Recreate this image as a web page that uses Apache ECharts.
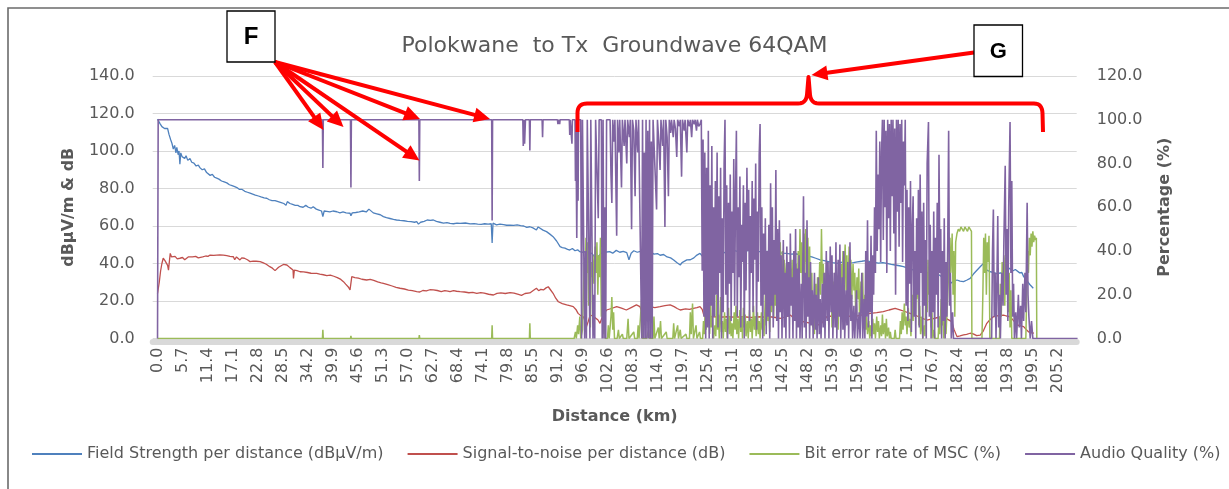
<!DOCTYPE html>
<html><head><meta charset="utf-8">
<script src="https://cdn.jsdelivr.net/npm/echarts@6/dist/echarts.min.js"></script>
<style>html,body{margin:0;padding:0;background:#fff}#c{width:1229px;height:489px}</style>
</head><body><div id="c"></div><script>
// x tick labels (km)
const xTicks=[0.0,5.7,11.4,17.1,22.8,28.5,34.2,39.9,45.6,51.3,57.0,62.7,68.4,74.1,79.8,85.5,91.2,96.9,102.6,108.3,114.0,119.7,125.4,131.1,136.8,142.5,148.2,153.9,159.6,165.3,171.0,176.7,182.4,188.1,193.8,199.5,205.2];
const leftTicks=[0,20,40,60,80,100,120,140];
const rightTicks=[0,20,40,60,80,100,120];

// Field Strength per distance (dBµV/m) : [km, value]
const fieldStrength=[[0,117],[0.3,116],[0.6,114.5],[1.0,113],[1.3,114],[1.6,112],[2.0,111],[2.3,112],[2.6,109],[3.0,106],[3.3,104],[3.6,101],[3.9,103],[4.2,99],[4.4,102],[4.7,98],[4.9,100],[5.1,93],[5.3,99],[5.6,97],[5.9,98],[6.2,96],[6.5,97.5],[6.9,95],[7.4,96],[7.8,94],[8.3,93.5],[8.8,92],[9.3,92.5],[9.7,91],[10.2,90],[10.7,90.5],[11.2,88.5],[11.6,89],[12.0,87],[12.5,87.5],[13.0,86],[13.5,85.5],[14.0,85],[14.6,84],[15.2,83.5],[15.8,83],[16.4,82],[17.0,81.5],[17.6,81],[18.1,80.5],[18.7,79.5],[19.3,79.5],[19.9,78.5],[20.5,78],[21.1,77.5],[21.7,77],[22.3,76.5],[23.0,76],[23.6,75.5],[24.3,75],[24.9,74.8],[25.5,74],[26.1,73.5],[26.8,73.5],[27.5,73],[28.2,72.5],[28.8,72],[29.3,71],[29.6,73],[30.2,72],[30.8,71.5],[31.4,71],[32.0,71],[32.5,70.3],[33.2,70],[33.8,71],[34.4,70],[35.0,69.5],[35.5,70.3],[36.2,69],[36.8,68.5],[37.4,68],[37.7,65],[38.0,68],[38.6,67.8],[39.3,67.5],[40.0,68],[40.9,67.6],[41.6,67],[42.3,67.5],[43.0,67],[43.9,66.8],[44.1,65.5],[44.4,67],[45.2,67.2],[46.0,67.5],[46.8,68],[47.6,67.5],[48.2,69],[48.5,68.5],[49.2,67],[50.0,66.5],[50.8,66],[51.5,65],[52.2,64.5],[53.0,64],[53.8,63.5],[54.5,63.2],[55.3,63],[56.2,62.8],[57.0,62.5],[57.8,62.3],[58.6,62],[59.1,62.3],[59.5,61],[59.7,60],[60.0,62],[60.8,62.5],[61.5,63.2],[62.2,63],[62.9,63.2],[63.6,62.5],[64.4,62],[65.2,61.5],[66.0,61.8],[66.7,61.4],[67.5,61.2],[68.3,61.5],[69.0,61.4],[70.2,61.6],[71.3,61.1],[72.2,61.3],[73.0,61.0],[73.8,60.9],[74.6,61.2],[75.4,61.0],[76.1,61.2],[76.3,51],[76.5,61.5],[77.3,60.6],[78.1,61],[78.9,60.7],[79.6,60.4],[80.4,60.5],[81.2,60.3],[82.0,60.6],[82.8,60.2],[83.5,60],[84.2,59.3],[84.9,59.6],[85.6,59],[86.4,57.9],[86.8,59.5],[87.2,58.7],[87.9,57.8],[88.7,57],[89.4,55.8],[90.2,54.3],[91.0,52],[91.8,49],[92.3,48.5],[92.9,48.2],[93.5,47.5],[94.0,47.2],[94.6,48],[95.2,46.8],[95.8,47.3],[96.3,46.3],[97.0,46],[97.8,46.3],[98.5,45],[99.0,45.5],[99.5,44],[100.1,41.9],[100.6,44],[101.2,45.5],[102.0,46],[103.1,46.3],[103.8,45.5],[104.6,47],[105.4,46],[106.2,46.5],[107.0,45.8],[107.5,42],[107.7,41],[108.0,45.5],[108.6,46.8],[109.4,46],[110.1,46.5],[110.8,46.3],[111.6,45.5],[112.4,46.2],[113.2,45],[114.0,45.3],[114.6,44.4],[115.4,44.8],[116.2,43.5],[117.0,43],[117.7,41.9],[118.4,40.5],[119.2,39.2],[119.6,40.5],[120.0,39.5],[120.7,41.9],[121.5,42],[122.3,43],[123.0,44.5],[123.7,45.4],[124.2,44],[124.8,43],[125.5,42],[126.2,41.5],[126.8,41.9],[127.5,43],[128.3,44.5],[129.0,45.5],[129.8,46.3],[130.6,46.5],[131.4,47],[132.2,46.5],[133.0,47.2],[133.6,47.2],[134.4,46.8],[135.2,47],[136.0,46.5],[136.7,46.3],[137.4,46.3],[138.2,46],[139.0,46.5],[139.7,46.3],[140.6,45.8],[141.5,46],[142.4,45.5],[143.5,45.4],[144.5,45],[145.4,45.2],[146.3,44.8],[147.3,44.5],[148.2,44],[149.2,43.5],[150.1,42.8],[151.1,41.9],[152.0,41.5],[153.0,41],[154.0,40.5],[154.9,40.1],[155.8,40.6],[156.8,40.8],[157.7,40.3],[158.7,40.5],[159.6,40.9],[160.6,41.2],[161.5,41.5],[162.5,41],[163.4,40.6],[164.4,40.2],[165.4,40.5],[166.3,40.1],[167.3,39.5],[168.2,39.2],[169.2,38.8],[170.1,38.3],[171.1,37.5],[172.0,36.8],[173.0,36.2],[173.9,35.6],[174.9,35.4],[175.8,35],[176.8,34.9],[177.7,34.7],[178.5,33.5],[179.3,32],[180.1,30.5],[180.8,29.4],[181.5,30.5],[182.3,31.2],[183.0,30.6],[183.8,30.3],[184.6,31.2],[185.3,32.1],[186.1,34.5],[186.9,36.5],[187.7,38.5],[188.1,39],[188.4,40.1],[188.8,38],[189.1,36.5],[189.9,35.6],[190.7,35.2],[191.5,34.5],[192.2,35],[192.9,34.7],[193.6,35.5],[194.3,37.5],[194.6,38.5],[195.0,36],[195.6,36.8],[196.0,36.5],[196.6,35],[197.1,35.2],[197.5,33],[198.2,31],[198.9,28.8],[199.7,26.8]];

// Signal-to-noise per distance (dB)
const snr=[[0,24],[0.2,24.5],[0.4,30],[0.7,36],[1.0,40],[1.3,42.8],[1.7,41.5],[2.1,41],[2.3,39],[2.5,36.5],[2.7,41],[2.9,45.4],[3.2,43.5],[3.6,42.6],[4.0,43.8],[4.5,42.5],[5.1,42.8],[5.7,43.2],[6.2,42],[6.6,41.9],[7.0,43.5],[7.4,44.5],[8.0,43.5],[8.7,43.8],[9.3,43],[9.7,42.8],[10.3,43.5],[11.0,44],[11.5,43.8],[12.0,44.5],[12.8,44.3],[13.5,44.5],[14.2,44.6],[15.0,44.5],[15.8,44.2],[16.5,43.8],[17.3,43.6],[17.6,42],[18.0,43.5],[18.8,41.9],[19.2,43],[19.8,42.8],[20.5,42],[21.1,41],[21.8,41.3],[22.5,41.2],[23.4,41],[24.0,40.5],[24.8,39.6],[25.6,38.3],[26.2,37.5],[26.8,36.2],[27.2,36.5],[27.6,38],[28.0,38.3],[28.7,39.5],[29.5,39.2],[30.2,37.8],[30.9,36.5],[31.0,32],[31.1,31.2],[31.2,36.5],[31.8,36.2],[32.5,35.6],[33.3,35.5],[34.2,35.2],[35.0,34.8],[36.3,34.7],[37.0,34.3],[37.8,34],[38.6,33.5],[39.4,33.8],[40.2,33.2],[41.0,32.5],[41.8,31.5],[42.4,30.3],[42.9,29],[43.5,27.5],[43.9,25.9],[44.1,26],[44.3,33],[45.0,32.5],[45.8,32.2],[46.6,31.6],[47.7,31.2],[48.5,31.5],[49.3,31],[50.2,30.2],[51.0,29.7],[51.5,29.4],[52.5,28.7],[53.5,28],[54.4,27.3],[55.3,26.8],[56.3,26.4],[57.2,25.8],[58.1,25.5],[59.1,25],[59.8,24.8],[60.5,25.6],[61.3,25.4],[62.1,26],[62.9,25.9],[63.8,25.6],[64.7,25],[65.5,25.5],[66.2,25.3],[66.7,25],[67.5,25.5],[68.2,25.2],[69.0,25],[70.0,24.8],[71.0,24.4],[71.9,24.6],[72.8,24.1],[73.7,24.5],[74.5,24.2],[75.5,23.6],[76.6,23.2],[77.4,24.1],[78.3,24.3],[79.3,24],[80.4,24.5],[81.3,24.2],[82.3,23.5],[83.0,23],[83.4,22.3],[83.8,24],[84.2,25],[84.9,24.3],[85.6,25.5],[86.4,26.8],[86.9,25.5],[87.4,26.2],[88.0,25.9],[88.6,27],[89.1,27.6],[89.6,26],[90.2,24.1],[90.8,21.5],[91.4,19.6],[92.3,18.6],[93.3,17.9],[94.0,17.5],[94.8,17],[95.4,15.5],[95.9,13.4],[96.5,12.2],[97.1,11.6],[97.5,9.5],[97.8,6.3],[98.2,9],[98.6,12],[99.3,12.5],[99.8,11],[100.4,10],[100.9,8.1],[101.5,12],[102.0,14],[102.4,15.2],[103.5,16],[104.7,17],[105.8,16.2],[106.9,15.2],[108.0,16.5],[109.2,17.9],[110.0,17],[110.4,17],[110.6,13],[110.8,11.6],[111.1,15],[111.5,17],[112.3,17],[113.4,16.5],[114.6,17],[115.7,17.5],[116.9,17.9],[117.8,17],[118.5,16],[119.2,15.2],[120.4,15.8],[121.3,15.5],[122.2,16.1],[123.0,16.5],[123.7,17],[124.2,15.5],[124.5,13],[124.8,11.6],[125.8,11.8],[126.8,11.6],[128.3,11.4],[129.8,11.6],[131.7,11.4],[133.6,11.6],[135.5,11.2],[137.4,11.6],[138.6,11.4],[139.7,11.6],[140.9,11.2],[142.0,10.7],[143.2,11.5],[144.3,12.5],[145.0,11],[145.8,9.8],[146.8,9.2],[148.0,8.6],[149.2,8],[150.1,7.6],[151.1,7.2],[151.9,9.5],[152.6,11.6],[153.8,12],[155.1,12.3],[156.4,12.5],[157.5,12],[158.7,11.6],[159.9,12.2],[161.2,12.8],[162.5,13.4],[164.0,13.8],[165.5,14.3],[166.8,15.2],[168.2,16.1],[169.3,15.3],[170.4,14.4],[171.6,13.4],[172.8,12.4],[174.0,11.2],[175.4,9.8],[176.7,10.5],[177.9,11.2],[179.2,11.6],[180.2,10.2],[181.1,9],[181.6,5],[182.3,1],[183.0,1.4],[183.8,1.9],[184.5,2.2],[185.3,2.8],[186.0,2.5],[186.8,1.5],[187.6,1.8],[188.3,4],[189.1,8.1],[189.8,10],[190.6,11.6],[191.7,12.2],[192.9,12.5],[193.6,12],[194.4,11.6],[195.2,9.5],[196.0,7.2],[196.8,6.8],[197.5,6.3],[198.0,5],[198.6,3.6],[199.2,3.2],[199.8,2.8]];

// Bit error rate of MSC (%)
const ber=[[0,0],[37.6,0],[37.7,4],[37.8,0],[44.0,0],[44.1,1.2],[44.2,0],[59.6,0],[59.7,1.5],[59.8,0],[76.2,0],[76.3,6],[76.4,0],[84.8,0],[84.9,7],[85.0,0],[95.0,0],[95.3,3],[95.5,0],[95.8,6],[96.0,2],[96.3,10],[96.5,0],[96.9,4],[97.1,20],[97.3,35],[97.5,25],[97.7,46],[97.9,30],[98.1,44],[98.3,15],[98.5,40],[98.7,5],[98.9,35],[99.1,28],[99.3,38],[99.5,25],[99.8,42],[100.0,30],[100.2,44],[100.4,20],[100.6,38],[100.8,28],[101.0,46],[101.2,10],[101.4,20],[101.6,2],[101.9,8],[102.1,0],[102.6,0],[102.8,6],[103.0,0],[103.4,10],[103.6,19],[103.8,4],[104.0,12],[104.2,0],[104.8,0],[105.1,4],[105.3,0],[106.0,2],[106.2,0],[107.0,0],[107.3,9],[107.5,0],[108.6,3],[108.8,0],[109.4,0],[109.6,6],[109.8,0],[110.2,0],[110.4,18],[110.6,0],[111.5,0],[112.0,4],[112.2,0],[113.0,0],[113.2,10],[113.4,0],[114.2,5],[114.4,0],[114.7,8],[114.9,0],[116.0,3],[116.2,0],[117.5,0],[117.7,7],[117.9,0],[118.6,6],[118.8,0],[119.2,4],[119.4,0],[120.5,2],[120.7,0],[121.3,0],[121.5,12],[121.7,2],[122.0,16],[122.2,0],[122.8,6],[123.0,0],[123.6,3],[123.8,0],[124.3,0],[124.5,8],[124.7,2],[124.9,15],[125.1,4],[125.3,18],[125.5,6],[125.7,12],[125.9,2],[126.1,16],[126.3,5],[126.5,10],[126.8,0],[127.1,6],[127.3,1],[127.5,20],[127.7,4],[127.9,11],[128.1,0],[128.4,19],[128.6,3],[128.8,8],[129.0,0],[129.3,12],[129.5,3],[129.7,9],[129.9,0],[130.2,14],[130.4,2],[130.6,10],[130.8,1],[131.0,7],[131.2,0],[131.5,12],[131.7,4],[131.9,15],[132.1,2],[132.3,9],[132.5,0],[132.8,13],[133.0,3],[133.2,10],[133.4,0],[133.6,14],[133.8,5],[134.0,11],[134.2,1],[134.5,8],[134.7,0],[135.0,13],[135.2,3],[135.4,9],[135.6,0],[135.9,15],[136.1,4],[136.3,10],[136.5,1],[136.8,12],[137.0,2],[137.2,8],[137.4,0],[137.7,12],[137.9,4],[138.1,9],[138.3,1],[138.6,20],[138.8,6],[139.0,22],[139.2,8],[139.4,14],[139.6,3],[139.8,24],[140.0,12],[140.3,28],[140.5,10],[140.7,30],[140.9,15],[141.2,38],[141.4,18],[141.6,42],[141.8,25],[142.0,44],[142.2,20],[142.5,40],[142.7,30],[142.9,36],[143.1,22],[143.4,34],[143.6,15],[143.8,30],[144.0,10],[144.3,32],[144.5,20],[144.7,36],[144.9,12],[145.2,30],[145.4,18],[145.6,34],[145.8,8],[146.1,40],[146.3,25],[146.5,50],[146.7,30],[146.9,44],[147.1,20],[147.4,48],[147.6,28],[147.8,50],[148.0,35],[148.3,46],[148.5,22],[148.7,42],[148.9,10],[149.2,30],[149.4,5],[149.6,20],[149.8,2],[150.1,25],[150.3,8],[150.5,28],[150.7,12],[151.0,35],[151.2,20],[151.4,50],[151.6,25],[151.8,34],[152.0,15],[152.3,30],[152.5,20],[152.7,33],[152.9,10],[153.2,28],[153.4,18],[153.6,32],[153.8,5],[154.1,26],[154.3,12],[154.5,30],[154.7,8],[155.0,24],[155.2,4],[155.4,28],[155.6,15],[155.9,34],[156.1,20],[156.3,40],[156.5,25],[156.8,43],[157.0,22],[157.2,38],[157.4,15],[157.7,42],[157.9,28],[158.1,36],[158.3,18],[158.6,34],[158.8,22],[159.0,30],[159.2,12],[159.5,28],[159.7,18],[159.9,32],[160.1,8],[160.4,26],[160.6,14],[160.8,30],[161.0,6],[161.3,20],[161.5,4],[161.7,10],[161.9,2],[162.2,8],[162.4,0],[162.6,6],[162.8,1],[163.1,9],[163.3,2],[163.5,7],[163.7,0],[164.0,10],[164.2,3],[164.4,8],[164.6,0],[164.9,6],[165.1,1],[165.3,11],[165.5,2],[165.8,7],[166.0,0],[166.2,9],[166.4,1],[166.7,5],[166.9,0],[167.1,3],[167.3,0],[168.0,0],[168.2,4],[168.4,0],[169.2,0],[169.4,8],[169.6,2],[169.8,12],[170.0,4],[170.3,16],[170.5,6],[170.7,10],[170.9,2],[171.2,14],[171.4,5],[171.6,9],[171.8,1],[172.1,20],[172.3,8],[172.5,30],[172.7,14],[172.9,37],[173.1,18],[173.4,28],[173.6,6],[173.8,15],[174.0,2],[174.3,10],[174.5,0],[174.8,6],[175.0,1],[175.3,30],[175.5,12],[175.7,36],[175.9,20],[176.2,28],[176.4,5],[176.6,12],[176.8,0],[177.1,4],[177.3,0],[178.0,0],[178.2,10],[178.4,2],[178.7,18],[178.9,6],[179.1,14],[179.3,0],[179.6,8],[179.8,2],[180.2,20],[180.5,35],[180.7,46],[180.9,30],[181.2,48],[181.4,20],[181.6,40],[181.8,10],[182.0,44],[182.3,48],[182.6,50],[182.9,49],[183.2,51],[183.5,50],[183.8,49],[184.1,51],[184.4,50],[184.7,49],[185.0,51],[185.3,50],[185.6,49],[185.7,0],[188.0,0],[188.2,20],[188.4,46],[188.6,30],[188.8,48],[189.0,20],[189.2,44],[189.4,35],[189.6,47],[189.8,0],[192.0,0],[192.2,25],[192.4,10],[192.6,35],[192.8,20],[193.0,38],[193.2,15],[193.4,37],[193.6,28],[193.8,36],[194.0,12],[194.2,30],[194.4,5],[194.6,22],[194.8,0],[198.0,0],[198.2,20],[198.4,40],[198.6,30],[198.8,46],[199.0,38],[199.2,48],[199.4,42],[199.6,49],[199.8,44],[200.0,47],[200.2,45],[200.4,46],[200.5,0]];

// Audio Quality (%)
const audio=[[0,0],[0.15,100],[37.6,100],[37.7,78],[37.8,100],[44.0,100],[44.1,69],[44.2,100],[59.6,100],[59.7,72],[59.8,100],[76.2,100],[76.3,54],[76.4,100],[83.3,100],[83.4,88],[83.6,100],[83.7,89],[83.9,100],[84.8,100],[84.9,86],[85.0,100],[87.7,100],[87.8,92],[87.9,100],[91.2,100],[91.3,98],[91.5,100],[91.7,98],[91.8,100],[93.9,100],[94.0,93],[94.1,100],[94.5,89],[94.6,100],[95.2,100],[95.3,72],[95.4,100],[95.6,46],[95.8,100],[95.9,63],[96.0,100],[96.5,100],[96.7,0],[96.9,100],[97.2,100],[97.4,0],[97.6,40],[97.8,0],[98.0,100],[98.4,100],[98.6,0],[98.8,100],[99.1,100],[99.3,0],[99.5,20],[99.7,0],[99.9,100],[100.3,100],[100.5,55],[100.7,100],[101.2,100],[101.4,0],[101.6,100],[101.8,0],[102.0,60],[102.2,0],[102.4,100],[102.8,100],[103.2,100],[103.4,75],[103.6,62],[103.8,100],[104.1,90],[104.3,100],[104.6,60],[104.7,47],[104.9,100],[105.2,85],[105.4,100],[105.8,69],[106.0,100],[106.4,88],[106.6,100],[107.0,80],[107.2,100],[107.6,92],[107.8,100],[108.1,50],[108.3,100],[108.6,95],[108.9,65],[109.1,100],[109.5,85],[109.7,100],[110.1,100],[110.4,0],[110.6,100],[110.8,0],[111.0,85],[111.2,0],[111.4,100],[111.6,0],[111.8,95],[112.0,0],[112.2,100],[112.4,0],[112.6,90],[112.8,0],[113.0,100],[113.4,100],[113.8,59],[114.0,100],[114.3,90],[114.6,77],[114.8,100],[115.2,88],[115.4,100],[115.7,51],[115.9,100],[116.2,92],[116.5,65],[116.7,100],[117.0,94],[117.2,100],[117.6,92],[117.8,100],[118.1,96],[118.4,83],[118.6,100],[119.0,97],[119.2,100],[119.5,74],[119.7,100],[120.1,95],[120.3,100],[120.7,85],[120.9,100],[121.3,97],[121.5,100],[121.8,92],[122.0,100],[122.4,98],[122.6,100],[122.9,95],[123.1,100],[123.4,97],[123.7,98],[124.0,100],[124.2,31],[124.4,91],[124.6,10],[124.8,85],[125.0,0],[125.2,78],[125.4,5],[125.6,95],[125.8,0],[126.0,70],[126.2,15],[126.4,88],[126.6,0],[126.8,60],[127.0,10],[127.2,72],[127.4,20],[127.6,85],[127.8,5],[128.0,65],[128.2,30],[128.4,78],[128.6,0],[128.8,55],[129.0,12],[129.2,80],[129.4,100],[129.6,20],[129.8,70],[130.0,0],[130.2,62],[130.4,25],[130.6,75],[130.8,8],[131.0,58],[131.2,30],[131.4,82],[131.6,15],[131.8,66],[132.0,95],[132.2,10],[132.4,60],[132.6,28],[132.8,74],[133.0,5],[133.2,52],[133.4,35],[133.6,70],[133.8,0],[134.0,62],[134.2,22],[134.4,78],[134.6,40],[134.8,68],[135.0,8],[135.2,56],[135.4,30],[135.6,72],[135.8,12],[136.0,64],[136.2,36],[136.4,80],[136.6,4],[136.8,58],[137.0,26],[137.2,84],[137.4,98],[137.6,15],[137.8,60],[138.0,0],[138.2,48],[138.4,20],[138.6,55],[138.8,2],[139.0,40],[139.2,10],[139.4,52],[139.6,0],[139.8,71],[140.0,15],[140.2,60],[140.4,5],[140.6,45],[140.8,20],[141.0,77],[141.2,8],[141.4,50],[141.6,0],[141.8,54],[142.0,12],[142.2,38],[142.4,0],[142.7,45],[142.9,5],[143.1,30],[143.3,0],[143.5,42],[143.7,10],[143.9,35],[144.1,0],[144.3,48],[144.5,15],[144.7,28],[144.9,0],[145.1,40],[145.3,8],[145.5,50],[145.7,0],[145.9,32],[146.1,5],[146.3,38],[146.5,0],[146.8,25],[147.0,0],[147.3,65],[147.5,5],[147.7,30],[147.9,0],[148.1,54],[148.3,10],[148.5,28],[148.7,0],[148.9,35],[149.1,6],[149.3,22],[149.5,0],[149.8,30],[150.0,4],[150.2,20],[150.4,0],[150.7,28],[150.9,2],[151.1,18],[151.3,0],[151.6,25],[151.8,5],[152.0,30],[152.2,0],[152.5,40],[152.7,8],[152.9,35],[153.1,0],[153.4,42],[153.6,12],[153.8,38],[154.0,0],[154.3,30],[154.5,5],[154.7,44],[154.9,0],[155.2,36],[155.4,10],[155.6,43],[155.8,0],[156.1,28],[156.3,4],[156.5,40],[156.7,0],[157.0,22],[157.2,6],[157.4,35],[157.6,0],[157.9,44],[158.1,8],[158.3,20],[158.5,0],[158.8,15],[159.0,0],[159.4,22],[159.6,0],[160.0,12],[160.2,0],[160.6,30],[160.8,0],[161.1,18],[161.3,0],[161.5,40],[161.7,10],[161.9,54],[162.1,5],[162.3,35],[162.5,12],[162.7,47],[162.9,0],[163.1,38],[163.3,20],[163.5,60],[163.7,30],[163.9,95],[164.1,40],[164.3,75],[164.5,50],[164.7,90],[164.9,35],[165.1,85],[165.3,100],[165.5,45],[165.7,100],[165.9,60],[166.1,95],[166.3,30],[166.5,100],[166.7,55],[166.9,98],[167.1,40],[167.3,100],[167.5,65],[167.7,100],[167.9,48],[168.1,96],[168.3,20],[168.5,100],[168.7,58],[168.9,100],[169.1,42],[169.3,98],[169.5,62],[169.7,100],[169.9,35],[170.1,90],[170.3,70],[170.5,100],[170.7,15],[170.9,68],[171.1,8],[171.3,60],[171.5,25],[171.7,72],[171.9,3],[172.1,50],[172.3,65],[172.5,10],[172.7,40],[172.9,0],[173.1,55],[173.3,20],[173.5,68],[173.7,5],[173.9,75],[174.1,30],[174.3,58],[174.5,0],[174.7,62],[174.9,15],[175.1,45],[175.3,0],[175.5,80],[175.8,99],[176.0,10],[176.2,52],[176.4,0],[176.6,40],[176.8,12],[177.0,58],[177.2,0],[177.4,46],[177.6,20],[177.8,62],[178.0,5],[178.2,84],[178.4,30],[178.6,50],[178.8,0],[179.0,40],[179.2,8],[179.4,55],[179.6,0],[179.8,35],[180.0,10],[180.2,45],[180.4,95],[180.6,15],[180.8,30],[181.0,0],[181.3,12],[181.5,0],[190.2,0],[190.4,40],[190.6,59],[190.8,10],[191.0,30],[191.2,0],[191.4,25],[191.6,56],[191.8,5],[192.0,20],[192.2,0],[192.5,30],[192.8,15],[193.0,45],[193.3,79],[193.5,20],[193.7,50],[193.9,8],[194.1,60],[194.4,99],[194.6,30],[194.8,72],[195.0,10],[195.2,25],[195.4,0],[195.7,12],[195.9,0],[196.3,20],[196.5,5],[196.8,15],[197.0,0],[197.3,25],[197.5,8],[197.8,30],[198.0,12],[198.3,62],[198.5,20],[198.7,10],[199.0,0],[199.3,8],[199.6,0],[209.8,0]];

const seriesNames=['Field Strength per distance (dBµV/m)','Signal-to-noise per distance (dB)','Bit error rate of MSC (%)','Audio Quality (%)'];
const colors=['#4F81BD','#C0504D','#9BBB59','#8064A2'];

const chart=echarts.init(document.getElementById('c'),null,{renderer:'canvas'});
const FONT='DejaVu Sans';
const GRAY='#595959';
const RED='#FF0000';

function arrow(x1,y1,x2,y2){
  const dx=x2-x1,dy=y2-y1,L=Math.hypot(dx,dy),ux=dx/L,uy=dy/L;
  const hl=16,hw=7.5;
  const bx=x2-ux*hl,by=y2-uy*hl;
  return [
    {type:'line',z:100,silent:true,shape:{x1:x1,y1:y1,x2:bx+ux*2,y2:by+uy*2},style:{stroke:RED,lineWidth:4}},
    {type:'polygon',z:100,silent:true,shape:{points:[[x2,y2],[bx-uy*hw,by+ux*hw],[bx+uy*hw,by-ux*hw]]},style:{fill:RED}}
  ];
}
function box(x,y,w,h,t,fs){
  return [
    {type:'rect',z:100,silent:true,shape:{x:x,y:y,width:w,height:h},style:{fill:'#fff',stroke:'#000',lineWidth:1.3}},
    {type:'text',z:101,silent:true,style:{text:t,x:x+w/2,y:y+h/2+1,fill:'#000',font:'bold '+fs+'px "Liberation Sans"',align:'center',verticalAlign:'middle',textAlign:'center',textVerticalAlign:'middle'}}
  ];
}
// curly bracket outline (annotation geometry, pixels)
function quad(p0,c,p1,n){const out=[];for(let i=1;i<=n;i++){const t=i/n,a=(1-t)*(1-t),b=2*(1-t)*t,d=t*t;out.push([a*p0[0]+b*c[0]+d*p1[0],a*p0[1]+b*c[1]+d*p1[1]]);}return out;}
let br=[[577.5,132],[577.5,113]];
br=br.concat(quad([577.5,113],[577.5,103.5],[587,103.5],8));
br.push([798,103.5]);
br=br.concat(quad([798,103.5],[806,103.5],[807,95],6));
br.push([808.5,77],[810,95]);
br=br.concat(quad([810,95],[811,103.5],[819,103.5],6));
br.push([1034,103.5]);
br=br.concat(quad([1034,103.5],[1042,103.5],[1042.5,113],8));
br.push([1043,132]);

let graphics=[
  {type:'rect',z:0,silent:true,shape:{x:8,y:8,width:1240,height:500},style:{fill:'none',stroke:'#6b6b6b',lineWidth:1.6}}
];
const F0=[275,62];
[[323.5,130],[343.5,127],[420,119],[419.5,160.5],[490,119]].forEach(p=>{graphics=graphics.concat(arrow(F0[0],F0[1],p[0],p[1]));});
graphics=graphics.concat(arrow(974,52.5,811.5,75));
graphics.push({type:'polyline',z:100,silent:true,shape:{points:br},style:{fill:null,stroke:RED,lineWidth:4,lineJoin:'round'}});
graphics=graphics.concat(box(227,11,48,51,'F',24));
graphics=graphics.concat(box(974,25,48.5,51.5,'G',22));

const option={
  animation:false,
  backgroundColor:'#fff',
  textStyle:{fontFamily:FONT},
  title:{text:'Polokwane  to Tx  Groundwave 64QAM',left:'center',top:35,padding:0,
    textStyle:{fontFamily:FONT,fontSize:22,fontWeight:'normal',color:GRAY}},
  legend:{left:32,top:446,padding:0,itemWidth:50,itemHeight:2,itemGap:24,icon:'rect',
    textStyle:{fontFamily:FONT,fontSize:16,color:GRAY},data:seriesNames},
  grid:{left:152.7,right:152.3,top:76,bottom:150.5,containLabel:false},
  xAxis:{type:'value',min:-1.1,max:209.6,offset:3,
    name:'Distance (km)',nameLocation:'middle',nameGap:67,
    nameTextStyle:{fontFamily:FONT,fontSize:16,fontWeight:'bold',color:GRAY},
    axisLine:{show:true,onZero:false,lineStyle:{color:'#D9D9D9',width:6}},
    axisTick:{show:false},splitLine:{show:false},
    axisLabel:{customValues:xTicks,rotate:90,margin:6,fontFamily:FONT,fontSize:16,color:GRAY,
      formatter:v=>Number(v).toFixed(1)}},
  yAxis:[
    {type:'value',min:0,max:140,interval:20,position:'left',
     name:'dBµV/m & dB',nameLocation:'middle',nameGap:76,nameRotate:90,
     nameTextStyle:{fontFamily:FONT,fontSize:16,fontWeight:'bold',color:GRAY},
     axisLine:{show:false},axisTick:{show:false},
     splitLine:{show:true,lineStyle:{color:'#D9D9D9',width:1}},
     axisLabel:{customValues:leftTicks,margin:18,fontFamily:FONT,fontSize:16,color:GRAY,formatter:v=>Number(v).toFixed(1)}},
    {type:'value',min:0,max:120,interval:20,position:'right',
     name:'Percentage (%)',nameLocation:'middle',nameGap:80,nameRotate:90,
     nameTextStyle:{fontFamily:FONT,fontSize:16,fontWeight:'bold',color:GRAY},
     axisLine:{show:false},axisTick:{show:false},splitLine:{show:false},
     axisLabel:{customValues:rightTicks,margin:20,fontFamily:FONT,fontSize:16,color:GRAY,formatter:v=>Number(v).toFixed(1)}}
  ],
  series:[
    {name:seriesNames[0],type:'line',yAxisIndex:0,data:fieldStrength,showSymbol:false,symbol:'none',
     lineStyle:{color:colors[0],width:1.3},itemStyle:{color:colors[0]}},
    {name:seriesNames[1],type:'line',yAxisIndex:0,data:snr,showSymbol:false,symbol:'none',
     lineStyle:{color:colors[1],width:1.3},itemStyle:{color:colors[1]}},
    {name:seriesNames[2],type:'line',yAxisIndex:1,data:ber,showSymbol:false,symbol:'none',
     lineStyle:{color:colors[2],width:1.5},itemStyle:{color:colors[2]}},
    {name:seriesNames[3],type:'line',yAxisIndex:1,data:audio,showSymbol:false,symbol:'none',
     lineStyle:{color:colors[3],width:1.6},itemStyle:{color:colors[3]}}
  ],
  graphic:graphics
};
chart.setOption(option);
</script></body></html>
